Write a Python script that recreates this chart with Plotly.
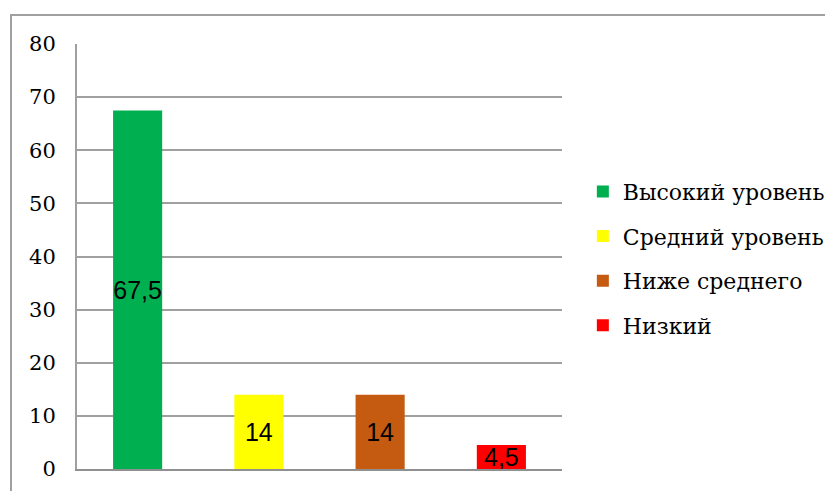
import plotly.graph_objects as go

categories = ["Высокий уровень", "Средний уровень", "Ниже среднего", "Низкий"]
values = [67.5, 14, 14, 4.5]
labels = ["67,5", "14", "14", "4,5"]
colors = ["#00B050", "#FFFF00", "#C55A11", "#FF0000"]
y_ticks = [0, 10, 20, 30, 40, 50, 60, 70, 80]

SERIF = "DejaVu Serif"
SANS = "Liberation Sans"

fig = go.Figure()
for i, (name, v, lab, c) in enumerate(zip(categories, values, labels, colors)):
    fig.add_trace(go.Bar(
        x=[i], y=[v], name=name, legendgroup="g%d" % i,
        marker=dict(color=c, line=dict(width=0)),
        width=0.405, text=[lab], textposition="inside", insidetextanchor="middle",
        textangle=0, constraintext="none", cliponaxis=False,
        textfont=dict(family=SANS, size=25, color="#000000"),
        hoverinfo="skip",
    ))

fig.update_layout(
    width=825, height=483,
    margin=dict(l=69, r=271, t=36, b=22, autoexpand=False),
    paper_bgcolor="white", plot_bgcolor="white",
    barmode="overlay",
    showlegend=True,
    legend=dict(x=1.043, y=0.495, xanchor="left", yanchor="middle",
                font=dict(family=SERIF, size=22, color="#000000"),
                itemsizing="constant", tracegroupgap=13, itemwidth=30,
                bgcolor="rgba(0,0,0,0)"),
    xaxis=dict(range=[-0.5, 3.5], showticklabels=False, showgrid=False, zeroline=False,
               showline=True, linecolor="#909090", linewidth=2, ticks=""),
    yaxis=dict(range=[0, 80], tickvals=y_ticks, showgrid=True, gridcolor="#A0A0A0", gridwidth=2,
               zeroline=False, showline=True, linecolor="#A0A0A0", linewidth=2, ticks="",
               ticklabelstandoff=15,
               tickfont=dict(family=SERIF, size=21, color="#000000")),
    shapes=[dict(type="rect", xref="paper", yref="paper",
                 x0=(3 - 69) / 485, x1=(850 - 69) / 485,
                 y0=-(500 - 461) / 425, y1=(461 - 7) / 425,
                 line=dict(color="#A0A0A0", width=2), fillcolor="rgba(0,0,0,0)", layer="below")],
)

fig.write_html("out.html")
